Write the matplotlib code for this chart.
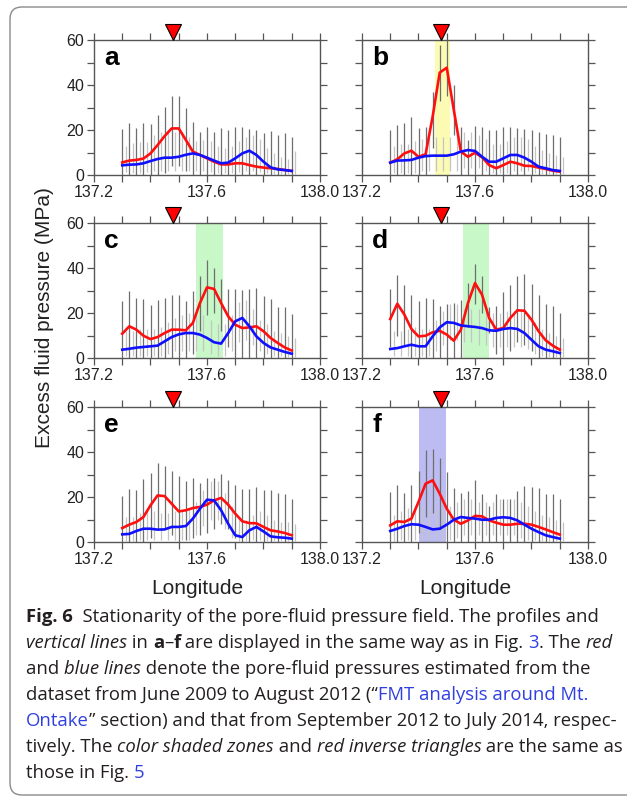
import matplotlib
matplotlib.use("Agg")
import matplotlib.pyplot as plt
from matplotlib import font_manager
from matplotlib.patches import FancyBboxPatch
import numpy as np

# longitude of the profile points (every 0.025 deg)
lon = np.arange(137.3, 137.9001, 0.025)
lon_light = lon + 0.0125
volcano_lon = 137.48

# red: June 2009 - August 2012, blue: September 2012 - July 2014
red_a = [5.6, 6.4, 6.7, 7.3, 9.6, 13.3, 17.3, 20.7, 20.7, 15.6, 10.4, 8.9, 7.4, 5.9, 4.7, 4.7, 5.2, 5.2, 4.4, 3.7, 3.3, 3.0, 2.7, 2.2, 1.8]
blue_a = [4.3, 4.6, 4.7, 5.2, 6.2, 7.1, 7.7, 7.7, 8.1, 9.0, 9.6, 8.9, 7.7, 6.4, 5.2, 5.5, 7.4, 9.6, 10.8, 8.9, 5.9, 3.4, 2.5, 2.2, 1.8]
red_b = [5.5, 7.0, 9.6, 10.8, 8.1, 9.2, 25.9, 45.5, 47.7, 28.9, 10.4, 8.1, 9.9, 7.9, 4.4, 3.0, 4.4, 5.9, 5.2, 4.1, 4.0, 3.3, 2.7, 1.9, 1.5]
blue_b = [5.5, 6.4, 6.5, 6.7, 7.7, 8.4, 8.6, 8.6, 8.6, 9.2, 10.4, 11.1, 10.7, 8.1, 5.9, 5.9, 7.4, 8.9, 8.9, 7.7, 5.9, 3.7, 3.0, 2.2, 1.8]
red_c = [10.8, 14.1, 12.6, 9.9, 8.4, 9.3, 11.1, 12.6, 12.6, 12.3, 15.6, 24.4, 31.4, 30.7, 24.4, 18.5, 14.8, 13.3, 13.6, 14.1, 11.9, 8.9, 6.7, 4.7, 3.3]
blue_c = [3.7, 4.1, 4.6, 4.9, 5.2, 5.5, 7.4, 9.3, 10.5, 11.1, 11.1, 10.4, 8.9, 7.0, 6.4, 11.1, 16.3, 17.8, 14.1, 9.6, 6.7, 4.7, 3.7, 2.7, 1.9]
red_d = [17.3, 24.1, 19.3, 12.9, 9.6, 9.9, 11.4, 12.1, 10.4, 7.7, 12.6, 24.4, 33.3, 28.1, 17.8, 12.6, 13.3, 17.8, 21.2, 21.0, 17.0, 11.9, 7.9, 5.5, 3.7]
blue_d = [4.0, 4.4, 5.2, 5.9, 5.2, 5.2, 9.6, 13.6, 15.9, 15.6, 14.5, 14.1, 13.8, 13.3, 12.3, 12.1, 12.9, 13.3, 12.9, 11.1, 8.1, 5.2, 3.7, 3.0, 2.2]
red_e = [6.2, 7.7, 8.9, 11.1, 16.3, 20.7, 20.4, 17.0, 13.6, 14.1, 15.1, 15.6, 16.6, 18.5, 19.6, 16.6, 12.6, 9.2, 8.4, 8.3, 6.7, 5.2, 4.7, 4.0, 3.0]
blue_e = [3.4, 3.6, 4.9, 5.9, 5.9, 5.5, 5.6, 6.7, 6.7, 7.1, 10.4, 14.8, 18.8, 18.5, 14.1, 8.1, 3.0, 2.2, 5.2, 6.7, 4.7, 2.5, 2.1, 1.9, 1.5]
red_f = [7.4, 9.2, 8.9, 10.4, 17.8, 25.9, 27.4, 21.5, 14.8, 9.9, 8.1, 9.6, 11.6, 11.4, 9.6, 8.6, 7.7, 7.7, 8.1, 8.1, 7.7, 6.7, 5.6, 4.4, 3.3]
blue_f = [4.9, 5.9, 7.1, 7.9, 7.7, 6.7, 5.6, 5.9, 7.7, 9.9, 11.1, 10.7, 10.4, 9.9, 9.9, 10.7, 11.0, 10.7, 9.6, 7.7, 5.9, 4.4, 3.0, 2.2, 1.5]

# dark gray vertical lines (range of the red estimate)
dark_hi_a = [20.3, 23.0, 21.0, 23.0, 22.5, 26.7, 30.4, 35.1, 35.1, 29.6, 23.7, 19.3, 21.5, 19.3, 20.7, 20.0, 21.2, 21.2, 20.3, 20.0, 18.8, 19.6, 17.8, 18.5, 16.7]
dark_lo_a = [0, 0, 0, 0, 0, 0, 1, 4, 4, 2, 0, 0, 0, 0, 0, 0, 0, 0, 0, 0, 0, 0, 0, 0, 0]
dark_hi_b = [20.0, 22.2, 23.0, 25.6, 21.0, 21.5, 37.0, 57.8, 60.0, 40.0, 21.5, 15.6, 21.8, 21.5, 20.0, 20.0, 21.2, 21.5, 20.7, 20.3, 20.0, 19.3, 18.2, 17.8, 16.7]
dark_lo_b = [0, 0, 0, 0, 0, 0, 12, 33, 35, 18, 0, 0, 0, 0, 0, 0, 0, 0, 0, 0, 0, 0, 0, 0, 0]
dark_hi_c = [25.2, 29.6, 26.7, 26.2, 23.7, 25.9, 26.7, 28.1, 28.1, 25.2, 29.6, 36.3, 43.7, 40.0, 35.3, 30.7, 30.7, 30.1, 30.7, 31.1, 27.4, 26.2, 22.7, 22.7, 19.7]
dark_lo_c = [0, 0, 0, 0, 0, 0, 0, 0, 0, 0, 2, 12, 19, 20, 12, 5, 0, 0, 0, 0, 0, 0, 0, 0, 0]
dark_hi_d = [30.7, 37.0, 32.6, 28.1, 25.2, 26.7, 26.4, 23.3, 24.1, 24.4, 25.6, 33.3, 41.9, 36.3, 22.7, 23.3, 29.2, 32.6, 36.6, 37.5, 33.0, 28.1, 24.1, 23.3, 20.0]
dark_lo_d = [5, 10, 6, 0, 0, 0, 0, 0, 0, 0, 0, 14, 24, 20, 11, 2, 0, 3, 7, 6, 3, 0, 0, 0, 0]
dark_hi_e = [20.3, 23.4, 23.0, 27.9, 30.8, 35.3, 33.8, 31.4, 29.3, 27.0, 28.4, 26.4, 28.4, 28.4, 30.4, 27.4, 25.5, 23.4, 23.7, 24.4, 23.0, 23.3, 21.8, 21.5, 19.0]
dark_lo_e = [0, 0, 0, 0, 2, 6, 6, 3, 0, 1, 2, 3, 4, 6, 8, 6, 2, 0, 0, 0, 0, 0, 0, 0, 0]
dark_hi_f = [22.2, 25.5, 21.9, 25.5, 31.4, 40.7, 41.2, 37.3, 31.1, 24.0, 21.9, 22.5, 27.4, 21.5, 16.0, 21.5, 19.0, 19.0, 22.5, 24.9, 24.4, 24.0, 21.5, 21.5, 19.3]
dark_lo_f = [0, 0, 0, 0, 4, 11, 13, 6, 0, 0, 0, 0, 0, 0, 0, 0, 0, 0, 0, 0, 0, 0, 0, 0, 0]

# light gray vertical lines (range of the blue estimate)
light_hi_a = [12.9, 14.1, 14.8, 14.5, 17.8, 19, 20, 19, 18, 17, 15, 15.6, 15, 13, 12, 13, 15, 17, 18, 16, 12, 10, 8, 7, 10.8]
light_lo_a = [1.5, 1, 1, 1.5, 2, 2, 2, 2, 2, 2, 2, 2, 1.5, 1, 1, 1, 1.5, 2, 2, 1.5, 1, 0.5, 0.5, 0.5, 0.5]
light_hi_b = [13, 14, 14, 15, 16, 17, 17, 17, 17, 18, 19, 19, 18, 16, 14, 14, 15, 17, 17, 16, 13, 11, 10, 9, 8]
light_lo_b = [1, 1, 1, 1, 2, 2, 2, 2, 2, 2, 3, 3, 3, 2, 1, 1, 1, 2, 2, 2, 1, 0.5, 0.5, 0.5, 0.5]
light_hi_c = [12, 12, 13, 13, 13, 14, 16, 18, 19, 20, 20, 19, 17, 15, 15, 19, 25, 26, 22, 17, 15, 12, 11, 10, 9]
light_lo_c = [1, 1, 1, 1, 1, 1, 2, 3, 3, 3, 3, 3, 2, 1, 1, 3, 7, 8, 6, 3, 2, 1, 1, 0.5, 0.5]
light_hi_d = [12, 12, 13, 14, 13, 13, 17, 21, 24, 24, 22, 22, 22, 21, 20, 20, 21, 21, 21, 19, 16, 13, 11, 10, 9]
light_lo_d = [1, 1, 1, 1, 1, 1, 3, 6, 8, 8, 7, 7, 6, 6, 5, 5, 5, 5, 5, 4, 2, 1, 0.5, 0.5, 0.5]
light_hi_e = [11, 11, 13, 14, 14, 13, 13, 14, 14, 15, 18, 23, 27, 27, 22, 16, 11, 10, 12, 14, 12, 10, 9, 9, 8]
light_lo_e = [0.5, 0.5, 1, 1, 1, 1, 1, 1, 1, 1, 3, 7, 10, 10, 6, 2, 0.5, 0.5, 1, 1, 0.5, 0.5, 0.5, 0.5, 0.5]
light_hi_f = [12, 14, 15, 16, 16, 15, 14, 15, 16, 18, 19, 19, 18, 18, 18, 19, 19, 19, 18, 16, 14, 12, 11, 10, 9]
light_lo_f = [0.5, 1, 1, 1, 1, 1, 1, 1, 1, 2, 3, 3, 3, 3, 3, 3, 3, 3, 2, 1, 1, 0.5, 0.5, 0.5, 0.5]

# shaded zones (lon range, colour) per panel
shade = {'a': None, 'b': (137.457, 137.513, '#fbfbb4'), 'c': (137.561, 137.655, '#c8f8c8'),
         'd': (137.559, 137.651, '#c8f8c8'), 'e': None, 'f': (137.402, 137.499, '#bcbcf2')}

panels = {
    'a': (red_a, blue_a, dark_hi_a, dark_lo_a, light_hi_a, light_lo_a),
    'b': (red_b, blue_b, dark_hi_b, dark_lo_b, light_hi_b, light_lo_b),
    'c': (red_c, blue_c, dark_hi_c, dark_lo_c, light_hi_c, light_lo_c),
    'd': (red_d, blue_d, dark_hi_d, dark_lo_d, light_hi_d, light_lo_d),
    'e': (red_e, blue_e, dark_hi_e, dark_lo_e, light_hi_e, light_lo_e),
    'f': (red_f, blue_f, dark_hi_f, dark_lo_f, light_hi_f, light_lo_f),
}

plt.rcParams['font.family'] = ['Liberation Sans', 'DejaVu Sans']
W, H = 627, 799
fig = plt.figure(figsize=(W / 100, H / 100), dpi=100)

# frame of the figure box
frame = FancyBboxPatch((0.10, 0.04), 6.6, 7.88, boxstyle="round,pad=0,rounding_size=0.12",
                       transform=fig.dpi_scale_trans, fc='none', ec='#8a8a8a', lw=1.0)
fig.patches.append(frame)

spine_col = '#555555'
lefts = [94, 362]
tops = [40, 223, 407]
ax_w, ax_h = 226, 135

for i, key in enumerate('abcdef'):
    row, col = divmod(i, 2)
    x0 = lefts[col] / W
    y0 = 1 - (tops[row] + ax_h) / H
    ax = fig.add_axes([x0, y0, ax_w / W, ax_h / H])
    red, blue, dhi, dlo, lhi, llo = panels[key]

    if shade[key] is not None:
        s0, s1, sc = shade[key]
        ax.axvspan(s0, s1, color=sc, lw=0, zorder=0)

    ax.vlines(lon, dlo, dhi, color='#6e6e6e', lw=0.9, zorder=1)
    ax.vlines(lon_light, llo, lhi, color='#c4c4c4', lw=0.9, zorder=1)
    ax.plot(lon, red, color='#ff1010', lw=1.9, zorder=3, solid_joinstyle='round')
    ax.plot(lon, blue, color='#1010ff', lw=1.9, zorder=3, solid_joinstyle='round')

    ax.plot(volcano_lon, 63.6, marker='v', ms=12, mfc='#ff0000', mec='black',
            mew=0.8, clip_on=False, zorder=5)

    ax.set_xlim(137.2, 138.0)
    ax.set_ylim(0, 60)
    ax.set_xticks(np.arange(137.2, 138.0001, 0.1))
    ax.set_xticklabels(['137.2', '', '', '', '137.6', '', '', '', '138.0'])
    ax.set_yticks(np.arange(0, 61, 10))
    if col == 0:
        ax.set_yticklabels(['0', '', '20', '', '40', '', '60'])
    else:
        ax.set_yticklabels([])
    ax.tick_params(axis='both', direction='out', length=5, width=0.9, color=spine_col,
                   labelsize=11.5, pad=2, top=True, right=True, labelcolor='#222222')
    for sp in ax.spines.values():
        sp.set_color(spine_col)
        sp.set_linewidth(1.0)
    ax.text(0.045, 0.815, key, transform=ax.transAxes, fontsize=19,
            fontweight='bold', va='baseline', ha='left', color='black')

    if row == 2:
        fig.text((lefts[col] + ax_w / 2 - 10) / W, 1 - 588 / H, 'Longitude',
                 fontsize=15, ha='center', va='center', color='#222222')

fig.text(45 / W, 1 - 318 / H, 'Excess fluid pressure (MPa)', rotation=90,
         fontsize=15, ha='center', va='center', color='#222222')

# caption
names = {f.name for f in font_manager.fontManager.ttflist}
cap_font = 'Liberation Sans Narrow' if 'Liberation Sans Narrow' in names else 'Open Sans'
txt_col = '#231f20'
link_col = '#3040e0'
N = dict(color=txt_col)
I = dict(color=txt_col, style='italic')
B = dict(color=txt_col, weight='bold')
L = dict(color=link_col)

caption = [
    [("Fig. 6", B), ("  Stationarity of the pore-fluid pressure field. The profiles and", N)],
    [("vertical lines", I), (" in ", N), ("a", B), ("–", N), ("f", B),
     (" are displayed in the same way as in Fig. ", N), ("3", L), (". The ", N), ("red", I)],
    [("and ", N), ("blue lines", I), (" denote the pore-fluid pressures estimated from the", N)],
    [("dataset from June 2009 to August 2012 (“", N), ("FMT analysis around Mt.", L)],
    [("Ontake", L), ("” section) and that from September 2012 to July 2014, respec-", N)],
    [("tively. The ", N), ("color shaded zones", I), (" and ", N), ("red inverse triangles", I),
     (" are the same as", N)],
    [("those in Fig. ", N), ("5", L)],
]
cap_y = [617, 643, 669, 695, 721, 747, 773]

renderer = fig.canvas.get_renderer()


def text_width(s, size, style):
    # width in pixels, robust to leading/trailing spaces
    t = fig.text(0, 0, '|' + s + '|', fontsize=size, family=cap_font, **style)
    t0 = fig.text(0, 0, '||', fontsize=size, family=cap_font, **style)
    w = t.get_window_extent(renderer).width - t0.get_window_extent(renderer).width
    t.remove()
    t0.remove()
    return w


# fit font size so the first line spans like the original
size = 12.0
w1 = sum(text_width(s, size, st) for s, st in caption[0])
size = size * 570 / w1

for parts, yy in zip(caption, cap_y):
    x = 26
    for s, st in parts:
        fig.text(x / W, 1 - yy / H, s, fontsize=size, family=cap_font, va='center', ha='left', **st)
        x += text_width(s, size, st)

fig.savefig('out.png', dpi=100)
